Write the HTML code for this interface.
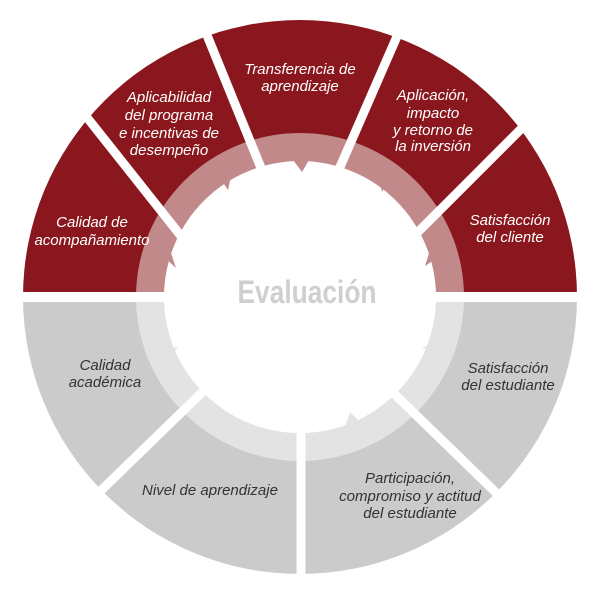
<!DOCTYPE html>
<html><head><meta charset="utf-8"><style>html,body{margin:0;padding:0;background:#fff}</style></head>
<body>
<svg width="600" height="600" viewBox="0 0 600 600" xmlns="http://www.w3.org/2000/svg">
<defs>
<clipPath id="top"><rect x="0" y="0" width="600" height="297"/></clipPath>
<clipPath id="bot"><rect x="0" y="297" width="600" height="303"/></clipPath>
</defs>
<g clip-path="url(#top)">
<circle cx="300" cy="297" r="277" fill="#8a171d"/>
<circle cx="300" cy="297" r="164" fill="#c1898a"/>
</g>
<g clip-path="url(#bot)">
<circle cx="300" cy="297" r="277" fill="#cbcbcb"/>
<circle cx="300" cy="297" r="164" fill="#e3e3e3"/>
</g>
<g stroke="#fff" stroke-width="9">
<line x1="70" y1="96" x2="200" y2="260"/>
<line x1="200" y1="18" x2="270" y2="190"/>
<line x1="405" y1="18" x2="330" y2="190"/>
<line x1="545" y1="105" x2="400" y2="250"/>
<line x1="50" y1="540" x2="220" y2="375"/>
<line x1="301" y1="380" x2="301" y2="590"/>
<line x1="555" y1="550" x2="380" y2="380"/>
</g>
<rect x="0" y="292" width="600" height="10" fill="#fff"/>
<circle cx="300" cy="297" r="136" fill="#fff"/>
<g fill="#c1898a">
<polygon points="293,160 309,160 302,172"/>
<polygon points="218,175 232,172 228,190"/>
<polygon points="378,172 390,176 382,192"/>
<polygon points="162,255 170,250 176,268"/>
<polygon points="430,250 440,256 425,266"/>
</g>
<g fill="#e3e3e3">
<polygon points="162,345 168,356 178,348"/>
<polygon points="234,418 248,425 240,432"/>
<polygon points="345,427 358,420 350,412"/>
<polygon points="430,350 436,342 422,348"/>
</g>
<text x="307" y="303" text-anchor="middle" font-family="Liberation Sans, sans-serif" font-weight="bold" font-size="32" fill="#cfcfcf" textLength="139" lengthAdjust="spacingAndGlyphs">Evaluación</text>
<g font-family="Liberation Sans, sans-serif" font-style="italic" font-size="15" text-anchor="middle" fill="#fff">
<text x="92" y="227">Calidad de</text><text x="92" y="245">acompañamiento</text>
<text x="169" y="102">Aplicabilidad</text><text x="169" y="120">del programa</text><text x="169" y="138">e incentivas de</text><text x="169" y="155">desempeño</text>
<text x="300" y="74">Transferencia de</text><text x="300" y="91">aprendizaje</text>
<text x="433" y="100">Aplicación,</text><text x="433" y="118">impacto</text><text x="433" y="135">y retorno de</text><text x="433" y="151">la inversión</text>
<text x="510" y="225">Satisfacción</text><text x="510" y="242">del cliente</text>
</g>
<g font-family="Liberation Sans, sans-serif" font-style="italic" font-size="15" text-anchor="middle" fill="#333">
<text x="105" y="370">Calidad</text><text x="105" y="387">académica</text>
<text x="210" y="495">Nivel de aprendizaje</text>
<text x="410" y="483">Participación,</text><text x="410" y="501">compromiso y actitud</text><text x="410" y="518">del estudiante</text>
<text x="508" y="373">Satisfacción</text><text x="508" y="390">del estudiante</text>
</g>
</svg>
</body></html>
